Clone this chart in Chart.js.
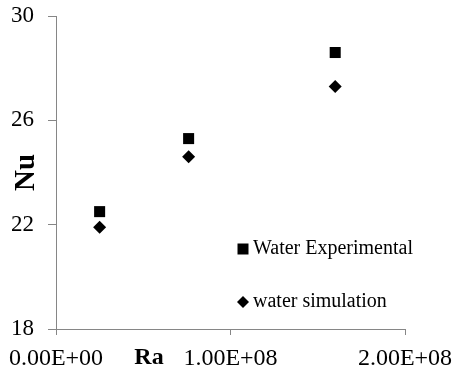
<!DOCTYPE html>
<html>
<head>
<meta charset="utf-8">
<script src="https://cdn.jsdelivr.net/npm/chart.js@4/dist/chart.umd.min.js"></script>
<style>
  html, body { margin: 0; padding: 0; background: #fff; }
  #wrap { width: 455px; height: 375px; }
</style>
</head>
<body>
<div id="wrap"><canvas id="nuChart" width="455" height="375"></canvas></div>
<script>
const raValues = [2.5e7, 7.6e7, 1.6e8];
const nuExperimental = [22.5, 25.3, 28.6];
const nuSimulation = [21.9, 24.6, 27.3];
const yTicks = [18, 22, 26, 30];
const xTicks = [0, 1e8, 2e8];

const serif = "'Liberation Serif', 'Times New Roman', serif";
const axisGray = "#868686";

function sci(v) {
  if (v === 0) return "0.00E+00";
  const exp = Math.floor(Math.log10(Math.abs(v)));
  const mant = v / Math.pow(10, exp);
  return mant.toFixed(2) + "E+" + String(exp).padStart(2, "0");
}

// axis titles and the in-plot legend, placed like the original
const extras = {
  id: "extras",
  afterDraw(chart) {
    const { ctx, chartArea } = chart;
    ctx.save();
    ctx.fillStyle = "#000";
    ctx.font = "bold 29px " + serif;
    ctx.textAlign = "center";
    ctx.textBaseline = "middle";
    ctx.translate(27, (chartArea.top + chartArea.bottom) / 2);
    ctx.rotate(-Math.PI / 2);
    ctx.fillText("Nu", 0, 0);
    ctx.restore();

    ctx.save();
    ctx.fillStyle = "#000";
    ctx.font = "bold 24px " + serif;
    ctx.textAlign = "center";
    ctx.textBaseline = "middle";
    ctx.fillText("Ra", 149, 358);
    ctx.restore();

    const items = [
      { label: chart.data.datasets[0].label, style: "rect", y: 249 },
      { label: chart.data.datasets[1].label, style: "rectRot", y: 302 },
    ];
    const mx = chartArea.left + 187;
    items.forEach((it) => {
      ctx.save();
      ctx.fillStyle = "#000";
      ctx.beginPath();
      if (it.style === "rect") {
        ctx.rect(mx - 5.5, it.y - 5.5, 11, 11);
      } else {
        ctx.moveTo(mx, it.y - 6);
        ctx.lineTo(mx + 6, it.y);
        ctx.lineTo(mx, it.y + 6);
        ctx.lineTo(mx - 6, it.y);
        ctx.closePath();
      }
      ctx.fill();
      ctx.font = "20px " + serif;
      ctx.textAlign = "left";
      ctx.textBaseline = "middle";
      ctx.fillText(it.label, mx + 10, it.y);
      ctx.restore();
    });
  },
};

const ctx = document.getElementById("nuChart").getContext("2d");
const nuChart = new Chart(ctx, {
  type: "scatter",
  data: {
    datasets: [
      {
        label: "Water Experimental",
        data: raValues.map((x, i) => ({ x: x, y: nuExperimental[i] })),
        pointStyle: "rect",
        pointRadius: 7.8,
        backgroundColor: "#000",
        borderColor: "#000",
        borderWidth: 0,
      },
      {
        label: "water simulation",
        data: raValues.map((x, i) => ({ x: x, y: nuSimulation[i] })),
        pointStyle: "rectRot",
        pointRadius: 6.5,
        backgroundColor: "#000",
        borderColor: "#000",
        borderWidth: 0,
      },
    ],
  },
  options: {
    responsive: false,
    animation: false,
    layout: { padding: { top: 16, right: 50, left: 0, bottom: 0 } },
    plugins: {
      legend: { display: false },
      tooltip: { enabled: false },
    },
    scales: {
      x: {
        type: "linear",
        min: xTicks[0],
        max: xTicks[xTicks.length - 1],
        afterBuildTicks(scale) {
          scale.ticks = xTicks.map((v) => ({ value: v }));
        },
        afterFit(scale) {
          scale.height = 46;
          scale.paddingLeft = 0;
          scale.paddingRight = 0;
        },
        grid: {
          drawOnChartArea: false,
          drawTicks: true,
          tickLength: 6,
          color: axisGray,
        },
        border: { display: true, color: axisGray, width: 1 },
        ticks: {
          color: "#000",
          padding: 9,
          maxRotation: 0,
          font: { family: serif, size: 24 },
          callback: (v) => sci(v),
        },
      },
      y: {
        min: yTicks[0],
        max: yTicks[yTicks.length - 1],
        afterBuildTicks(scale) {
          scale.ticks = yTicks.map((v) => ({ value: v }));
        },
        afterFit(scale) {
          scale.width = 56;
          scale.paddingTop = 0;
          scale.paddingBottom = 0;
        },
        grid: {
          drawOnChartArea: false,
          drawTicks: true,
          tickLength: 8,
          color: axisGray,
        },
        border: { display: true, color: axisGray, width: 1 },
        ticks: {
          color: "#000",
          padding: 14,
          font: { family: serif, size: 23 },
        },
      },
    },
  },
  plugins: [extras],
});
</script>
</body>
</html>
